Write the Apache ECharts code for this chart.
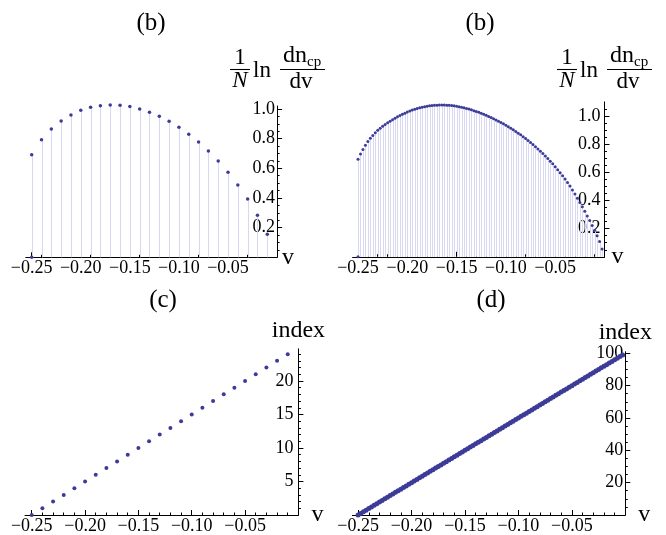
<!DOCTYPE html>
<html><head><meta charset="utf-8">
<script src="https://cdn.jsdelivr.net/npm/echarts@6/dist/echarts.min.js"></script>
<style>html,body{margin:0;padding:0;background:#fff}#c{width:666px;height:535px}</style>
</head><body><div id="c"></div>
<script>
// ---- data ----
const vA = [-0.25,-0.24,-0.23,-0.22,-0.21,-0.20,-0.19,-0.18,-0.17,-0.16,-0.15,-0.14,-0.13,-0.12,-0.11,-0.10,-0.09,-0.08,-0.07,-0.06,-0.05,-0.04,-0.03,-0.02,-0.01];
const yA = [0.692,0.793,0.865,0.919,0.960,0.991,1.011,1.022,1.027,1.025,1.016,1.000,0.978,0.951,0.917,0.876,0.829,0.778,0.717,0.649,0.573,0.488,0.393,0.283,0.155];
const vB = [-0.2500,-0.2475,-0.2450,-0.2425,-0.2400,-0.2375,-0.2350,-0.2325,-0.2300,-0.2275,
 -0.2250,-0.2225,-0.2200,-0.2175,-0.2150,-0.2125,-0.2100,-0.2075,-0.2050,-0.2025,
 -0.2000,-0.1975,-0.1950,-0.1925,-0.1900,-0.1875,-0.1850,-0.1825,-0.1800,-0.1775,
 -0.1750,-0.1725,-0.1700,-0.1675,-0.1650,-0.1625,-0.1600,-0.1575,-0.1550,-0.1525,
 -0.1500,-0.1475,-0.1450,-0.1425,-0.1400,-0.1375,-0.1350,-0.1325,-0.1300,-0.1275,
 -0.1250,-0.1225,-0.1200,-0.1175,-0.1150,-0.1125,-0.1100,-0.1075,-0.1050,-0.1025,
 -0.1000,-0.0975,-0.0950,-0.0925,-0.0900,-0.0875,-0.0850,-0.0825,-0.0800,-0.0775,
 -0.0750,-0.0725,-0.0700,-0.0675,-0.0650,-0.0625,-0.0600,-0.0575,-0.0550,-0.0525,
 -0.0500,-0.0475,-0.0450,-0.0425,-0.0400,-0.0375,-0.0350,-0.0325,-0.0300,-0.0275,
 -0.0250,-0.0225,-0.0200,-0.0175,-0.0150,-0.0125,-0.0100,-0.0075,-0.0050,-0.0025];
const yB = [0.692,0.730,0.762,0.792,0.818,0.841,0.862,0.881,0.898,0.913,
 0.927,0.940,0.952,0.963,0.974,0.984,0.994,1.003,1.012,1.020,
 1.028,1.035,1.042,1.048,1.053,1.058,1.062,1.066,1.069,1.072,
 1.074,1.076,1.077,1.078,1.078,1.078,1.077,1.076,1.074,1.072,
 1.069,1.066,1.062,1.058,1.054,1.049,1.044,1.038,1.032,1.026,
 1.019,1.012,1.005,0.997,0.989,0.981,0.972,0.963,0.954,0.944,
 0.934,0.924,0.913,0.902,0.890,0.878,0.866,0.853,0.840,0.826,
 0.812,0.797,0.782,0.766,0.750,0.733,0.716,0.698,0.679,0.660,
 0.640,0.619,0.597,0.575,0.552,0.528,0.503,0.475,0.446,0.416,
 0.386,0.355,0.323,0.290,0.257,0.223,0.188,0.150,0.108,0.055];
const extraV = [-0.25];
const extraY = [0];
const vC = [-0.25,-0.24,-0.23,-0.22,-0.21,-0.20,-0.19,-0.18,-0.17,-0.16,-0.15,-0.14,-0.13,-0.12,-0.11,-0.10,-0.09,-0.08,-0.07,-0.06,-0.05,-0.04,-0.03,-0.02,-0.01];
const indexC = [0,1,2,3,4,5,6,7,8,9,10,11,12,13,14,15,16,17,18,19,20,21,22,23,24];
const vD = vB.slice();
const indexD = [0,1,2,3,4,5,6,7,8,9,10,11,12,13,14,15,16,17,18,19,
 20,21,22,23,24,25,26,27,28,29,30,31,32,33,34,35,36,37,38,39,
 40,41,42,43,44,45,46,47,48,49,50,51,52,53,54,55,56,57,58,59,
 60,61,62,63,64,65,66,67,68,69,70,71,72,73,74,75,76,77,78,79,
 80,81,82,83,84,85,86,87,88,89,90,91,92,93,94,95,96,97,98,99];
const xTickVals = [-0.25,-0.20,-0.15,-0.10,-0.05];
const yTickAB = [0.2,0.4,0.6,0.8,1.0];
const yTickC = [5,10,15,20];
const yTickD = [20,40,60,80,100];
const panelTitles = ['(b)','(b)','(c)','(d)'];

// ---- styling ----
const FONT = 'Liberation Serif';
const DOT = '#3c3c98';
const STEM = '#d8d8f2';
const zip = (a, b) => a.map((x, i) => [x, b[i]]);

const grids = [
  {left: 25.8, top: 106, width: 251.3, height: 151.3},
  {left: 352.6, top: 101.9, width: 251.9, height: 154.9},
  {left: 25, top: 348.8, width: 273.4, height: 166.4},
  {left: 352.4, top: 351.7, width: 272.9, height: 163.4}
];
const xMins = [-0.256, -0.2555, -0.2563, -0.2553];
const vGaps = [5, 7, 13, 13];

function xAxis(i) {
  return {
    type: 'value', gridIndex: i, min: xMins[i], max: 0, splitNumber: 5,
    name: 'v', nameLocation: 'end', nameGap: vGaps[i],
    nameTextStyle: {fontFamily: FONT, fontSize: 24, color: '#000', verticalAlign: 'middle'},
    axisLine: {show: true, onZero: false, lineStyle: {color: '#000', width: 1}},
    axisTick: {show: true, inside: true, length: 5, customValues: xTickVals, lineStyle: {color: '#000'}},
    minorTick: {show: true, splitNumber: 5, length: 2.5, lineStyle: {color: '#000'}},
    axisLabel: {fontFamily: FONT, fontSize: 18, color: '#000', margin: 2, customValues: xTickVals,
      formatter: v => '\u2212' + Math.abs(v).toFixed(2)},
    splitLine: {show: false}, minorSplitLine: {show: false}
  };
}
function yAxis(i, max, interval, minorSplit, ticks, dec, margin, name, nameGap) {
  return {
    type: 'value', gridIndex: i, min: 0, max: max, interval: interval, position: 'right',
    name: name, nameLocation: 'end', nameGap: nameGap,
    nameTextStyle: {fontFamily: FONT, fontSize: 24, color: '#000', verticalAlign: 'middle', align: 'center'},
    axisLine: {show: true, onZero: false, lineStyle: {color: '#000', width: 1}},
    axisTick: {show: true, inside: false, length: 5, customValues: ticks, lineStyle: {color: '#000'}},
    minorTick: {show: true, splitNumber: minorSplit, length: 2.5, lineStyle: {color: '#000'}},
    axisLabel: {inside: true, fontFamily: FONT, fontSize: 18, color: '#000', margin: margin, customValues: ticks,
      formatter: v => v.toFixed(dec)},
    splitLine: {show: false}, minorSplitLine: {show: false}
  };
}

function stems(i, v, y) {
  return {
    type: 'custom', xAxisIndex: i, yAxisIndex: i, data: zip(v, y), clip: false, silent: true, z: 1,
    renderItem: (params, api) => {
      const p = api.coord([api.value(0), api.value(1)]);
      const b = api.coord([api.value(0), 0]);
      const x = Math.round(p[0]) + 0.5;
      return {type: 'line', shape: {x1: x, y1: p[1], x2: x, y2: b[1]},
        style: {stroke: STEM, lineWidth: 1}};
    }
  };
}
function dots(i, v, y, size) {
  return {type: 'scatter', xAxisIndex: i, yAxisIndex: i, data: zip(v, y), symbolSize: size,
    clip: false, itemStyle: {color: DOT, opacity: 1}, z: 3};
}

// fraction label (1/N) ln (dn_cp/dv)
function fraction(dx) {
  const t = (text, x, y, size, align, italic) => ({type: 'text', x: x + dx, y: y,
    style: {text: text, fontFamily: FONT, fontSize: size, fill: '#000', align: align,
      verticalAlign: 'middle', fontStyle: italic ? 'italic' : 'normal'}});
  const l = (x1, x2, y) => ({type: 'line', shape: {x1: x1 + dx, y1: y, x2: x2 + dx, y2: y},
    style: {stroke: '#000', lineWidth: 1.1}});
  return [
    t('1', 240, 57.5, 23, 'center'),
    l(230, 250, 69.5),
    t('N', 240, 81, 23, 'center', true),
    t('ln', 253, 70.5, 23, 'left'),
    t('dn', 283, 55.5, 24, 'left'),
    t('cp', 307, 62, 15, 'left'),
    l(280, 325, 69.5),
    t('dv', 301, 82, 23, 'center')
  ];
}
const titlePos = [[151, 23], [480, 23], [163, 300], [491, 300]];
const titleEls = panelTitles.map((s, i) => ({type: 'text', x: titlePos[i][0], y: titlePos[i][1],
  style: {text: s, fontFamily: FONT, fontSize: 25, fill: '#000', align: 'center', verticalAlign: 'middle'}}));

const chart = echarts.init(document.getElementById('c'), null, {renderer: 'canvas'});
chart.setOption({
  animation: false,
  backgroundColor: '#fff',
  grid: grids,
  xAxis: [xAxis(0), xAxis(1), xAxis(2), xAxis(3)],
  yAxis: [
    yAxis(0, 1.02, 0.2, 4, yTickAB, 1, 2, '', 0),
    yAxis(1, 1.1, 0.2, 4, yTickAB, 1, 4, '', 0),
    yAxis(2, 24.8, 5, 5, yTickC, 0, 5, 'index', 18),
    yAxis(3, 101, 20, 4, yTickD, 0, 2, 'index', 19)
  ],
  series: [
    stems(0, vA, yA), dots(0, vA, yA, 3.5), dots(0, extraV, extraY, 3.5),
    stems(1, vB, yB), dots(1, vB, yB, 3), dots(1, extraV, extraY, 3),
    dots(2, vC, indexC, 4),
    dots(3, vD, indexD, 5)
  ],
  graphic: [].concat(titleEls, fraction(0), fraction(327))
});
</script></body></html>
